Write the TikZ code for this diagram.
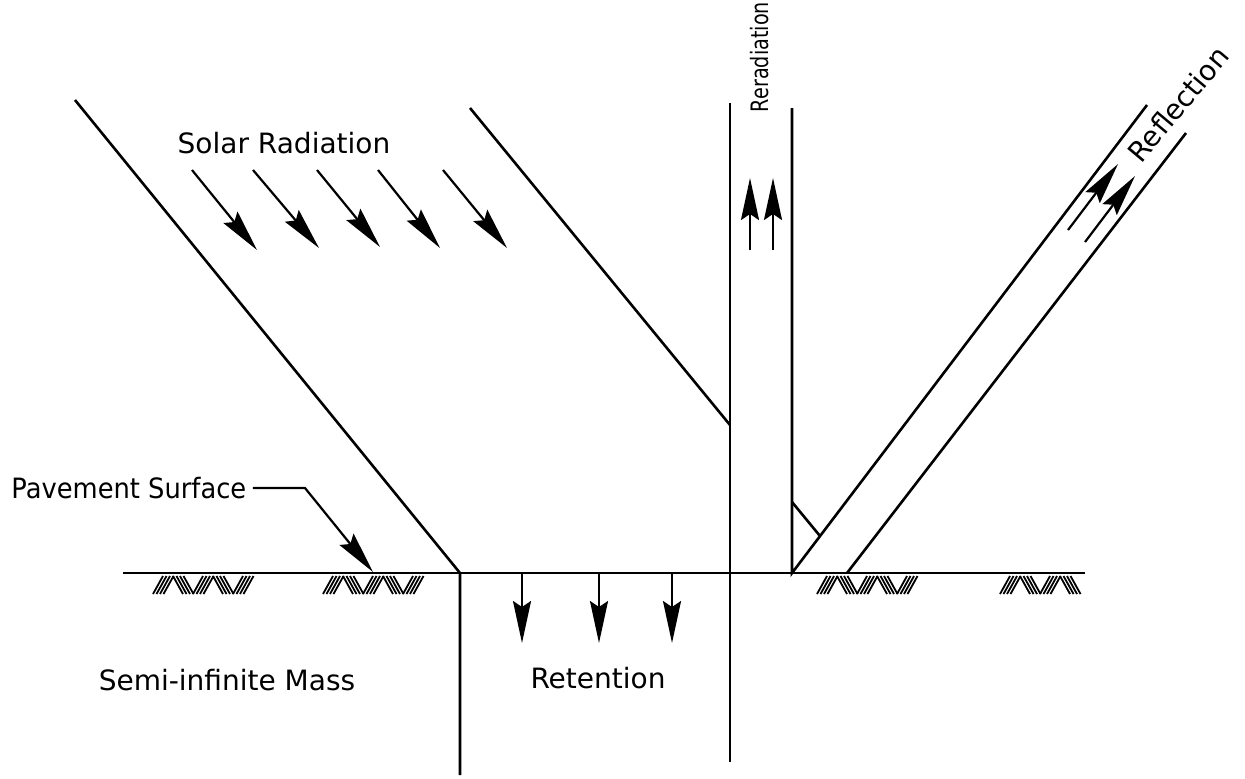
\documentclass[tikz,border=0pt]{standalone}
\usepackage{fontspec}
\setmainfont{DejaVu Sans}
\usetikzlibrary{arrows.meta}
\newcommand\hatchpatch[2]{%
  \foreach \g in {1,...,#2}{%
    \pgfmathsetmacro\gx{#1+(\g-1)*20}%
    \pgfmathtruncatemacro\oddg{mod(\g,2)}%
    \ifnum\oddg=1
      \foreach \k in {0,3.5,7,10.5} \draw[hatch] (\gx+\k,594) -- ++(10,-18);
    \else
      \foreach \k in {0,3.5,7,10.5} \draw[hatch] (\gx+\k,576) -- ++(10,18);
    \fi
  }}
\begin{document}
\begin{tikzpicture}[x=0.5pt,y=-0.5pt,
  edge/.style={line width=1.3pt},
  ray/.style={line width=1.1pt,-{Stealth[length=21pt,width=9pt,inset=3pt]}},
  hatch/.style={line width=0.9pt},
  lbl/.style={font=\fontsize{14}{16}\selectfont, inner sep=0pt}]
\useasboundingbox (0,0) rectangle (1245,778);
% key points
\coordinate (gL) at (123,573);
\coordinate (gR) at (1085,573);
\coordinate (s1top) at (75,100);
\coordinate (s1bot) at (460,573);
\coordinate (s1deep) at (460,775);
\coordinate (s2top) at (470,108);
\coordinate (s2end) at (730,425);
\coordinate (r1top) at (730,103);
\coordinate (r1bot) at (730,762);
\coordinate (r2top) at (792,108);
\coordinate (r2bot) at (792,573);
\coordinate (f1top) at (1147,105);
\coordinate (f2top) at (1186,133);
\coordinate (f2bot) at (847,573);
\coordinate (k1) at (792,502);
\coordinate (k2) at (820,536);
% main lines
\draw[edge] (gL) -- (gR);
\draw[edge] (s1top) -- (s1bot) -- (s1deep);
\draw[edge] (s2top) -- (s2end);
\draw[edge] (r1top) -- (r1bot);
\draw[edge] (r2top) -- (r2bot) -- (f1top);
\draw[edge] (f2bot) -- (f2top);
\draw[edge] (k1) -- (k2);
% hatching
\hatchpatch{153}{5}
\hatchpatch{323}{5}
\hatchpatch{817}{5}
\hatchpatch{1000}{4}
% solar rays
\foreach \sx/\sy/\ex/\ey [count=\i] in {192/170/257/250, 253/170/319/248, 317/170/380/247, 378/170/440/248, 443/170/507/248}{
  \coordinate (sa\i) at (\sx,\sy);
  \coordinate (sb\i) at (\ex,\ey);
  \draw[ray] (sa\i) -- (sb\i);
}
% reradiation arrows
\foreach \xx [count=\i] in {750,773}{
  \coordinate (ra\i) at (\xx,250);
  \coordinate (rb\i) at (\xx,178);
  \draw[ray] (ra\i) -- (rb\i);
}
% reflection arrows
\coordinate (fa1) at (1068,230); \coordinate (fb1) at (1118,164);
\coordinate (fa2) at (1085,242); \coordinate (fb2) at (1135,176);
\draw[ray] (fa1) -- (fb1);
\draw[ray] (fa2) -- (fb2);
% retention arrows
\foreach \xx [count=\i] in {522,599,672}{
  \coordinate (ta\i) at (\xx,574);
  \coordinate (tb\i) at (\xx,643);
  \draw[ray] (ta\i) -- (tb\i);
}
% labels
\node[lbl] (solar) at (284,143) {Solar Radiation};
\node[lbl] (semi) at (227,680) {Semi-infinite Mass};
\node[lbl] (ret) at (598,678) {Retention};
\node[lbl, rotate=90] (rerad) at (760,57) {\scalebox{0.8}[1]{\fontsize{12}{14}\selectfont Reradiation}};
\node[lbl, rotate=50] (refl) at (1178,104) {Reflection};
\node[lbl, anchor=west, inner sep=3pt] (pav) at (5,488) {\scalebox{0.92}[1]{Pavement Surface}};
\coordinate (pbend) at (305,490);
\coordinate (ptip) at (373,572);
\draw[ray] (pav.east) -- (pav.east -| pbend) -- (ptip);
\end{tikzpicture}
\end{document}
